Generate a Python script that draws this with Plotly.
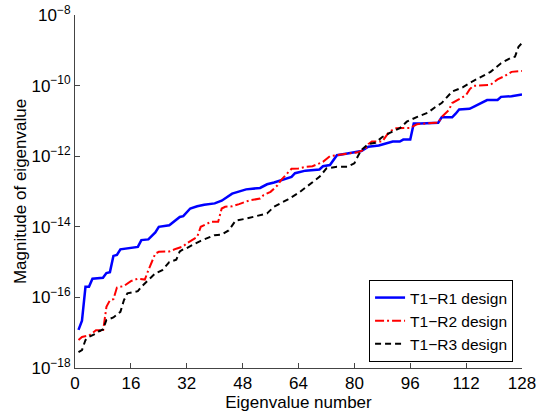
import plotly.graph_objects as go

# Eigenvalue numbers and magnitudes
r1_x = [1, 2, 3, 4, 5, 8, 9, 10, 11, 12, 13, 18, 19, 21, 23, 24, 27, 30, 31, 33, 35, 37, 40, 42,
        45, 49, 53, 55, 57, 59, 61, 62, 63, 66, 70, 71, 73, 74, 75, 78, 82, 84, 87, 89, 91, 93,
        94, 96, 97, 99, 104, 105, 108, 109, 110, 113, 115, 118, 121, 122, 125, 128]
r1_y = [1.2e-17, 2.2e-17, 2.0e-16, 2.0e-16, 3.4e-16, 3.6e-16, 4.9e-16, 5.2e-16, 1.5e-15, 1.6e-15,
        2.3e-15, 2.7e-15, 4.2e-15, 4.4e-15, 6.9e-15, 1.0e-14, 1.1e-14, 1.9e-14, 2.0e-14, 3.3e-14,
        3.8e-14, 4.2e-14, 4.6e-14, 5.5e-14, 8.7e-14, 1.15e-13, 1.26e-13, 1.6e-13, 1.8e-13, 2.1e-13,
        2.5e-13, 2.6e-13, 3.3e-13, 3.9e-13, 4.2e-13, 5.2e-13, 5.6e-13, 7.8e-13, 1.07e-12, 1.2e-12,
        1.4e-12, 1.86e-12, 2.0e-12, 2.3e-12, 2.6e-12, 2.6e-12, 2.95e-12, 2.95e-12, 8.5e-12, 8.5e-12,
        8.9e-12, 1.26e-11, 1.26e-11, 1.6e-11, 2.1e-11, 2.2e-11, 2.8e-11, 3.9e-11, 3.9e-11, 4.8e-11,
        5.0e-11, 5.6e-11]

r2_x = [1, 2, 4, 6, 7, 8, 9, 10, 11, 12, 14, 16, 18, 20, 21, 23, 24, 27, 29, 31, 32, 35, 36, 38,
        39, 41, 42, 43, 45, 47, 50, 53, 54, 56, 58, 59, 61, 62, 64, 66, 68, 71, 73, 78, 81, 83, 84,
        85, 88, 90, 92, 96, 98, 103, 104, 105, 107, 108, 110, 112, 113, 114, 119, 121, 123, 125, 128]
r2_y = [6.2e-18, 7.6e-18, 8.3e-18, 1.17e-17, 1.17e-17, 1.05e-17, 5.4e-17, 8.3e-17, 8.9e-17, 1.9e-16,
        2.1e-16, 2.9e-16, 3.4e-16, 3.2e-16, 5.9e-16, 1.74e-15, 1.95e-15, 2.0e-15, 2.4e-15, 2.8e-15,
        3.4e-15, 5.2e-15, 1.0e-14, 1.26e-14, 1.4e-14, 1.4e-14, 3.3e-14, 3.7e-14, 3.8e-14, 4.4e-14,
        5.6e-14, 6.3e-14, 7.9e-14, 9.8e-14, 1.5e-13, 2.1e-13, 3.6e-13, 4.4e-13, 4.5e-13, 5.0e-13,
        5.2e-13, 6.9e-13, 1.0e-12, 1.2e-12, 1.3e-12, 1.55e-12, 2.2e-12, 2.6e-12, 2.6e-12, 5.0e-12,
        6.2e-12, 6.3e-12, 8.1e-12, 8.9e-12, 8.9e-12, 1.3e-11, 2.0e-11, 3.2e-11, 4.2e-11, 5.4e-11,
        7.8e-11, 9.8e-11, 1.05e-10, 1.5e-10, 1.86e-10, 2.45e-10, 2.6e-10]

r3_x = [1, 2, 3, 4, 6, 7, 8, 9, 11, 13, 14, 15, 18, 19, 21, 23, 25, 27, 29, 30, 31, 32, 34, 36,
        40, 42, 44, 46, 49, 52, 55, 57, 59, 61, 64, 67, 70, 72, 75, 78, 80, 81, 82, 84, 86, 88, 90,
        93, 95, 98, 101, 103, 105, 108, 111, 114, 116, 119, 122, 125, 126, 127, 128]
r3_y = [2.8e-18, 3.2e-18, 6.2e-18, 7.6e-18, 9.5e-18, 1.12e-17, 1.23e-17, 2.3e-17, 2.7e-17, 3.9e-17,
        8.3e-17, 1.3e-16, 1.5e-16, 2.0e-16, 3.1e-16, 4.8e-16, 5.9e-16, 1.0e-15, 1.17e-15, 2.0e-15,
        2.3e-15, 2.5e-15, 3.2e-15, 4.0e-15, 5.8e-15, 6.0e-15, 7.9e-15, 1.5e-14, 1.7e-14, 2.0e-14,
        2.4e-14, 3.7e-14, 4.6e-14, 6.0e-14, 9.1e-14, 1.5e-13, 2.6e-13, 4.5e-13, 5.0e-13, 5.0e-13,
        6.3e-13, 1.0e-12, 1.5e-12, 2.2e-12, 2.4e-12, 3.5e-12, 4.5e-12, 6.2e-12, 9.5e-12, 1.3e-11,
        1.7e-11, 2.4e-11, 3.2e-11, 6.8e-11, 8.9e-11, 1.35e-10, 1.7e-10, 2.45e-10, 4.3e-10, 6.3e-10,
        6.6e-10, 1.26e-9, 1.6e-9]

series_names = ["T1\u2212R1 design", "T1\u2212R2 design", "T1\u2212R3 design"]

x_ticks = [0, 16, 32, 48, 64, 80, 96, 112, 128]
y_tickvals = [1e-18, 1e-16, 1e-14, 1e-12, 1e-10, 1e-8]
y_ticktext = ["10<sup>\u221218</sup>", "10<sup>\u221216</sup>", "10<sup>\u221214</sup>",
              "10<sup>\u221212</sup>", "10<sup>\u221210</sup>", "10<sup>\u22128</sup>"]

FONT = "Liberation Sans"

fig = go.Figure()
fig.add_trace(go.Scatter(x=r1_x, y=r1_y, mode="lines", name=series_names[0],
                         line=dict(color="#0000ff", width=2.5)))
fig.add_trace(go.Scatter(x=r2_x, y=r2_y, mode="lines", name=series_names[1],
                         line=dict(color="#ff0000", width=2, dash="9px,3px,2px,3px")))
fig.add_trace(go.Scatter(x=r3_x, y=r3_y, mode="lines", name=series_names[2],
                         line=dict(color="#000000", width=2, dash="6px,4px")))

axis_common = dict(showline=True, linecolor="#444", linewidth=1, ticks="inside", ticklen=5,
                   tickcolor="#444", showgrid=False, zeroline=False, mirror=False,
                   automargin=False,
                   tickfont=dict(family=FONT, size=17, color="#000"))

fig.update_xaxes(range=[0, 128], tickvals=x_ticks,
                 title=dict(text="Eigenvalue number", standoff=0,
                            font=dict(family=FONT, size=17, color="#000")),
                 **axis_common)
fig.update_yaxes(type="log", range=[-18, -8], tickvals=y_tickvals, ticktext=y_ticktext,
                 title=dict(text="Magnitude of eigenvalue", standoff=0,
                            font=dict(family=FONT, size=17, color="#000")),
                 **axis_common)

fig.update_layout(
    width=538, height=416,
    margin=dict(l=75, r=16, t=15, b=48),
    paper_bgcolor="white", plot_bgcolor="white",
    font=dict(family=FONT, size=17, color="#000"),
    legend=dict(x=0.98, y=0.017, xanchor="right", yanchor="bottom",
                bgcolor="white", bordercolor="#000", borderwidth=1,
                font=dict(family=FONT, size=15.5), tracegroupgap=0, itemwidth=30),
    showlegend=True,
)

fig.write_html("out.html", config={"displayModeBar": False},
               post_script="document.body.style.margin='0';document.body.style.overflow='hidden';")
